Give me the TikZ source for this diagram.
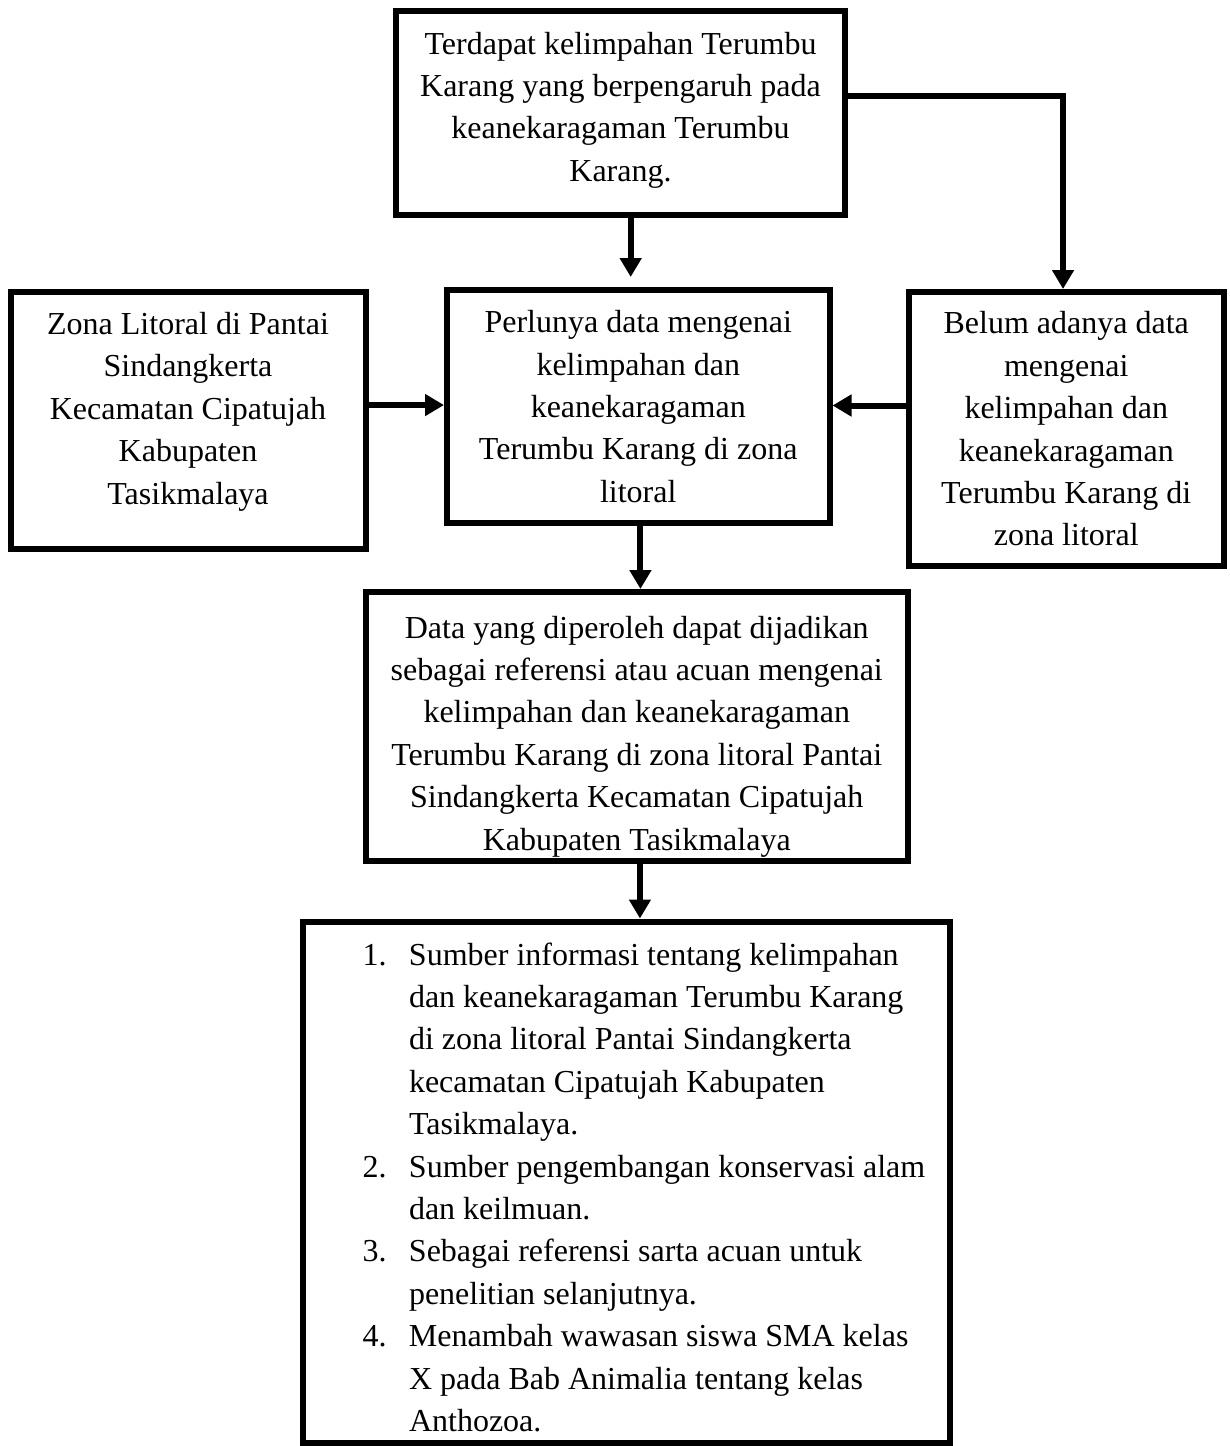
\documentclass[tikz,border=0pt]{standalone}
\usepackage{fontspec}
\setmainfont{Liberation Serif}
\usetikzlibrary{arrows.meta}
\begin{document}
\begin{tikzpicture}[x=0.5pt,y=-0.5pt,line width=3pt,
>={Triangle[length=9.5pt,width=10.5pt]},
font=\fontsize{16}{21.2}\selectfont,
flowbox/.style={draw,rectangle,align=center,inner sep=2pt,line width=3pt}]
\useasboundingbox (0,0) rectangle (1230,1446);
\draw (620.5,113) node[flowbox,minimum width=224.5pt,minimum height=102pt] (top) {Terdapat kelimpahan Terumbu\\Karang yang berpengaruh pada\\keanekaragaman Terumbu\\Karang.\rule[-6.5pt]{0pt}{6.5pt}};
\draw (188,420.25) node[flowbox,minimum width=177.5pt,minimum height=128.75pt] (left) {Zona Litoral di Pantai\\Sindangkerta\\Kecamatan Cipatujah\\Kabupaten\\Tasikmalaya\rule[-12pt]{0pt}{12pt}};
\draw (638.25,406.5) node[flowbox,minimum width=191.25pt,minimum height=116.5pt] (mid) {Perlunya data mengenai\\kelimpahan dan\\keanekaragaman\\Terumbu Karang di zona\\litoral};
\draw (1066.25,429) node[flowbox,minimum width=157.75pt,minimum height=137pt] (right) {Belum adanya data\\mengenai\\kelimpahan dan\\keanekaragaman\\Terumbu Karang di\\zona litoral};
\draw (636.75,726.5) node[flowbox,minimum width=271.25pt,minimum height=134.5pt] (res) {\rule{0pt}{21pt}Data yang diperoleh dapat dijadikan\\sebagai referensi atau acuan mengenai\\kelimpahan dan keanekaragaman\\Terumbu Karang di zona litoral Pantai\\Sindangkerta Kecamatan Cipatujah\\Kabupaten Tasikmalaya};
\draw (626.25,1182.25) node[flowbox,minimum width=323.75pt,minimum height=260.75pt] (out) {};
\draw (out.west) ++(60,5) node[anchor=west,align=left,inner sep=0pt] (outlist) {%
\makebox[23.25pt][l]{1.}Sumber informasi tentang kelimpahan\\
\hspace*{23.25pt}dan keanekaragaman Terumbu Karang\\
\hspace*{23.25pt}di zona litoral Pantai Sindangkerta\\
\hspace*{23.25pt}kecamatan Cipatujah Kabupaten\\
\hspace*{23.25pt}Tasikmalaya.\\
\makebox[23.25pt][l]{2.}Sumber pengembangan konservasi alam\\
\hspace*{23.25pt}dan keilmuan.\\
\makebox[23.25pt][l]{3.}Sebagai referensi sarta acuan untuk\\
\hspace*{23.25pt}penelitian selanjutnya.\\
\makebox[23.25pt][l]{4.}Menambah wawasan siswa SMA kelas\\
\hspace*{23.25pt}X pada Bab Animalia tentang kelas\\
\hspace*{23.25pt}Anthozoa.};
\draw[->,shorten >=5pt] ([xshift=5.1pt]top.south) -- ([xshift=5.1pt]top.south |- mid.north);
\draw[->] ([yshift=8.5pt]top.east) -| ([xshift=-1.6pt]right.north);
\draw[->] ([yshift=7.6pt]left.east) -- ([yshift=7.6pt]left.east -| mid.west);
\draw[->] ([yshift=11.75pt]right.west) -- ([yshift=11.75pt]right.west -| mid.east);
\draw[->] ([xshift=1.1pt]mid.south) -- ([xshift=1.1pt]mid.south |- res.north);
\draw[->] ([xshift=1.6pt]res.south) -- ([xshift=1.6pt]res.south |- out.north);
\end{tikzpicture}
\end{document}
